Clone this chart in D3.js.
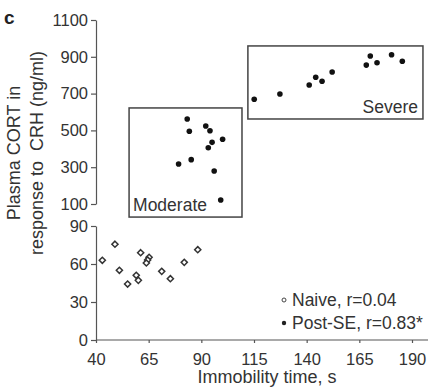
<!DOCTYPE html>
<html><head><meta charset="utf-8">
<script src="https://cdn.jsdelivr.net/npm/d3@7"></script>
<style>
body{margin:0;background:#fff;}
svg{display:block;font-family:"Liberation Sans",Arial,sans-serif;}
</style></head><body>
<svg id="c" width="430" height="388"></svg>
<script>
// Data
const naiveX = [43.0,49.0,51.1,55.0,59.1,60.1,61.2,65.2,64.5,63.9,71.2,75.3,81.9,88.3];
const naiveY = [62.9,75.6,55.0,44.2,51.1,47.1,68.9,65.3,63.2,60.8,54.2,48.4,61.3,71.3];
const moderateX = [83.3,84.3,92.1,94.1,100.1,95.1,93.3,85.2,79.2,96.1,99.2];
const moderateY = [562,495,524,498,452,435,406,341,317,279,122];
const severeX = [115.1,127.3,141.2,144.3,147.3,152.1,168.3,170.2,173.4,180.3,185.4];
const severeY = [669,698,747,789,767,817,855,904,868,911,876];
const xTicks = [40,65,90,115,140,165,190];
const yTopTicks = [100,300,500,700,900,1100];
const yBotTicks = [0,30,60,90];
const legendLabels = ["Naive, r=0.04","Post-SE, r=0.83*"];
const groupLabels = ["Moderate","Severe"];
// annotation boxes in data units [x0,x1,y0,y1]
const moderateBox = [55.7,109.3,29,622];
const severeBox = [112.1,195.2,562,959];

const svg = d3.select("#c");
const txt = "#333", axc = "#555";
const x = d3.scaleLinear().domain([40,190]).range([96,412]);
const yTop = d3.scaleLinear().domain([100,1100]).range([204,20]);
const yBot = d3.scaleLinear().domain([0,90]).range([340,226]);
const fmt = d3.format("d");

function styleAxis(g){
  g.selectAll("path,line").attr("stroke",axc).attr("stroke-width",1.2);
  g.selectAll("text").attr("fill",txt).style("font-size","16.5px").attr("font-family","Liberation Sans, Arial, sans-serif");
}
// Y axes
svg.append("g").attr("transform","translate(96,0)")
  .call(d3.axisLeft(yTop).tickValues(yTopTicks).tickFormat(fmt).tickSize(5).tickPadding(3).tickSizeOuter(0))
  .call(styleAxis);
svg.append("g").attr("transform","translate(96,0)")
  .call(d3.axisLeft(yBot).tickValues(yBotTicks).tickFormat(fmt).tickSize(5).tickPadding(3).tickSizeOuter(0))
  .call(styleAxis);
// X axis
const gx = svg.append("g").attr("transform","translate(0,340)")
  .call(d3.axisBottom(x).tickValues(xTicks).tickFormat(fmt).tickSize(3).tickPadding(10).tickSizeOuter(0))
  .call(styleAxis);
gx.select("path.domain").remove();
gx.append("line").attr("x1",96).attr("x2",428).attr("y1",0).attr("y2",0).attr("stroke",axc).attr("stroke-width",1.2);

// Boxes
function box(b,label,anchorRight){
  const x0=x(b[0]), x1=x(b[1]), yy0=yTop(b[3]), yy1=yTop(b[2]);
  svg.append("rect").attr("x",x0).attr("y",yy0).attr("width",x1-x0).attr("height",yy1-yy0)
    .attr("fill","none").attr("stroke","#444").attr("stroke-width",1.5);
  svg.append("text").attr("x",anchorRight? x1-5 : x0+4).attr("y",yy1-6)
    .attr("text-anchor",anchorRight?"end":"start").attr("fill",txt).style("font-size","17.5px").text(label);
}
box(moderateBox,groupLabels[0],false);
box(severeBox,groupLabels[1],true);

// Points
const post = moderateX.map((v,i)=>[v,moderateY[i]]).concat(severeX.map((v,i)=>[v,severeY[i]]));
svg.append("g").selectAll("circle").data(post).join("circle")
  .attr("cx",d=>x(d[0])).attr("cy",d=>yTop(d[1])).attr("r",2.8).attr("fill","#111");
const naive = naiveX.map((v,i)=>[v,naiveY[i]]);
svg.append("g").selectAll("path").data(naive).join("path")
  .attr("transform",d=>`translate(${x(d[0])},${yBot(d[1])})`)
  .attr("d",d3.symbol(d3.symbolDiamond2,24))
  .attr("fill","#fff").attr("stroke","#333").attr("stroke-width",1.5);

// Legend
const lg = svg.append("g");
lg.append("circle").attr("cx",284).attr("cy",300).attr("r",2).attr("fill","#fff").attr("stroke","#444").attr("stroke-width",1);
lg.append("circle").attr("cx",284).attr("cy",323).attr("r",2.2).attr("fill","#222");
lg.append("text").attr("x",292).attr("y",306).attr("fill",txt).style("font-size","17.5px").text(legendLabels[0]);
lg.append("text").attr("x",292).attr("y",329).attr("fill",txt).style("font-size","17.5px").text(legendLabels[1]);

// Axis titles
svg.append("text").attr("x",267).attr("y",383).attr("text-anchor","middle").attr("fill",txt)
  .style("font-size","18px").text("Immobility time, s");
const yl = svg.append("text").attr("transform","translate(0,153) rotate(-90)").attr("text-anchor","middle")
  .attr("fill",txt).style("font-size","18px");
yl.append("tspan").attr("x",0).attr("y",20).text("Plasma CORT in");
yl.append("tspan").attr("x",0).attr("y",43).style("white-space","pre").text("response to  CRH (ng/ml)");

// panel letter
svg.append("text").attr("x",4).attr("y",24).attr("fill","#222").style("font-size","19px").style("font-weight","bold").text("c");
</script>
</body></html>
